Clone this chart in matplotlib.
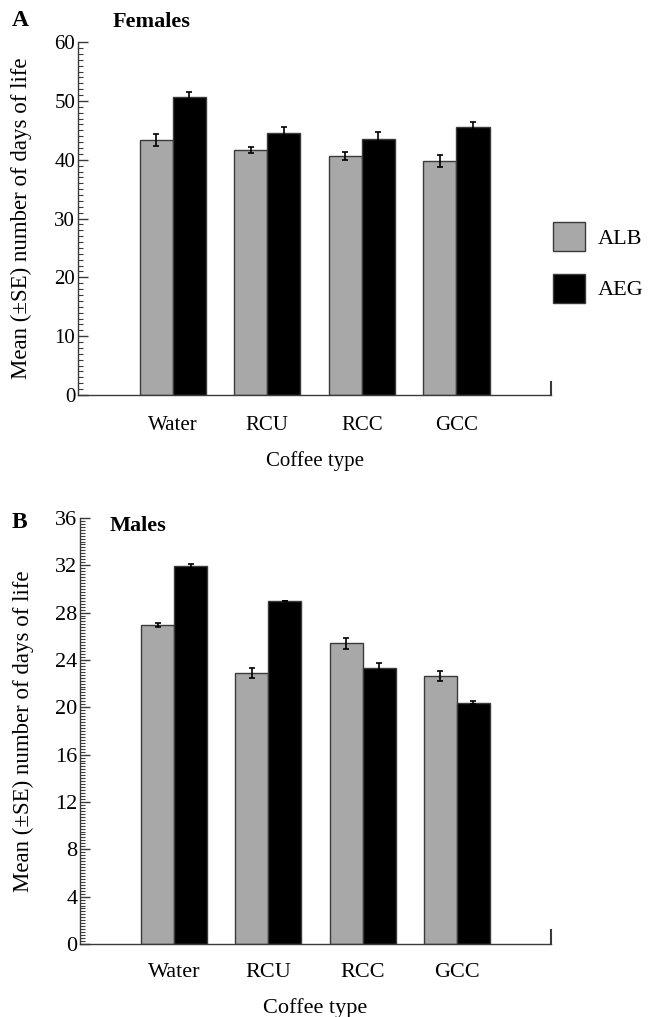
import numpy as np
import matplotlib
matplotlib.use("Agg")
import matplotlib.pyplot as plt
from matplotlib.ticker import MultipleLocator

plt.rcParams['font.family'] = ['Liberation Serif', 'DejaVu Serif']

coffee = ["Water", "RCU", "RCC", "GCC"]
groups = ["ALB", "AEG"]

# females (panel A)
fem_alb = [43.4, 41.6, 40.6, 39.8]
fem_alb_se = [1.0, 0.5, 0.7, 1.0]
fem_aeg = [50.7, 44.6, 43.6, 45.5]
fem_aeg_se = [0.8, 1.0, 1.1, 1.0]

# males (panel B)
mal_alb = [26.95, 22.9, 25.4, 22.65]
mal_alb_se = [0.15, 0.42, 0.45, 0.42]
mal_aeg = [31.95, 29.0, 23.3, 20.4]
mal_aeg_se = [0.15, 0.0, 0.42, 0.15]

GREY = "#a8a8a8"
EDGE = "#3a3a3a"
W = 0.35

fig = plt.figure(figsize=(6.56, 10.17), dpi=100)
ax1 = fig.add_axes([0.119, 0.6116, 0.721, 0.347])
ax2 = fig.add_axes([0.122, 0.0718, 0.718, 0.419])


def draw_panel(ax, alb, alb_se, aeg, aeg_se, ymax, major, minor, right_tick, fs, xpad, lpad):
    x = np.arange(len(coffee))
    b1 = ax.bar(x - W / 2, alb, W, color=GREY, edgecolor=EDGE, linewidth=1.0,
                yerr=alb_se, capsize=2.5,
                error_kw=dict(ecolor="black", elinewidth=1.2, capthick=1.2))
    b2 = ax.bar(x + W / 2, aeg, W, color="black", edgecolor=EDGE, linewidth=1.0,
                yerr=aeg_se, capsize=2.5,
                error_kw=dict(ecolor="black", elinewidth=1.2, capthick=1.2))
    ax.set_xlim(-1, 4)
    ax.set_ylim(0, ymax)
    ax.set_xticks(x)
    ax.set_xticklabels(coffee, fontsize=fs)
    ax.tick_params(axis='x', length=0, pad=xpad)
    ax.yaxis.set_major_locator(MultipleLocator(major))
    ax.yaxis.set_minor_locator(MultipleLocator(minor))
    ax.tick_params(axis='y', which='major', direction='in', length=7, width=1,
                   labelsize=fs, color=EDGE, pad=2)
    ax.tick_params(axis='y', which='minor', direction='in', length=3.5, width=0.8,
                   color=EDGE)
    for s in ['top', 'right']:
        ax.spines[s].set_visible(False)
    for s in ['left', 'bottom']:
        ax.spines[s].set_color(EDGE)
        ax.spines[s].set_linewidth(1.0)
    ax.axvline(4, ymin=0, ymax=right_tick, color=EDGE, lw=1.5, clip_on=False)
    ax.set_xlabel("Coffee type", fontsize=fs, labelpad=lpad)
    ax.set_ylabel("Mean (\u00b1SE) number of days of life", fontsize=16.5)
    ax.yaxis.set_label_coords(-0.097, 0.5)
    return b1, b2


b1, b2 = draw_panel(ax1, fem_alb, fem_alb_se, fem_aeg, fem_aeg_se, 60, 10, 1, 0.037,
                    15, 15, 12)
draw_panel(ax2, mal_alb, mal_alb_se, mal_aeg, mal_aeg_se, 36, 4, 0.25, 0.033,
           16, 14, 11)

fig.text(12 / 656, 1 - 21 / 1017, "A", fontsize=17, fontweight='bold', va='center')
fig.text(113 / 656, 1 - 22 / 1017, "Females", fontsize=16, fontweight='bold', va='center')
fig.text(12 / 656, 1 - 523 / 1017, "B", fontsize=17, fontweight='bold', va='center')
fig.text(110 / 656, 1 - 526 / 1017, "Males", fontsize=16, fontweight='bold', va='center')

leg = fig.legend([b1, b2], groups, loc='upper left',
                 bbox_to_anchor=(553 / 656, 1 - 222 / 1017),
                 frameon=False, fontsize=16, handlelength=1.45, handleheight=1.65,
                 labelspacing=1.0, handletextpad=0.55, borderpad=0,
                 borderaxespad=0)

fig.savefig("out.png", dpi=100)
